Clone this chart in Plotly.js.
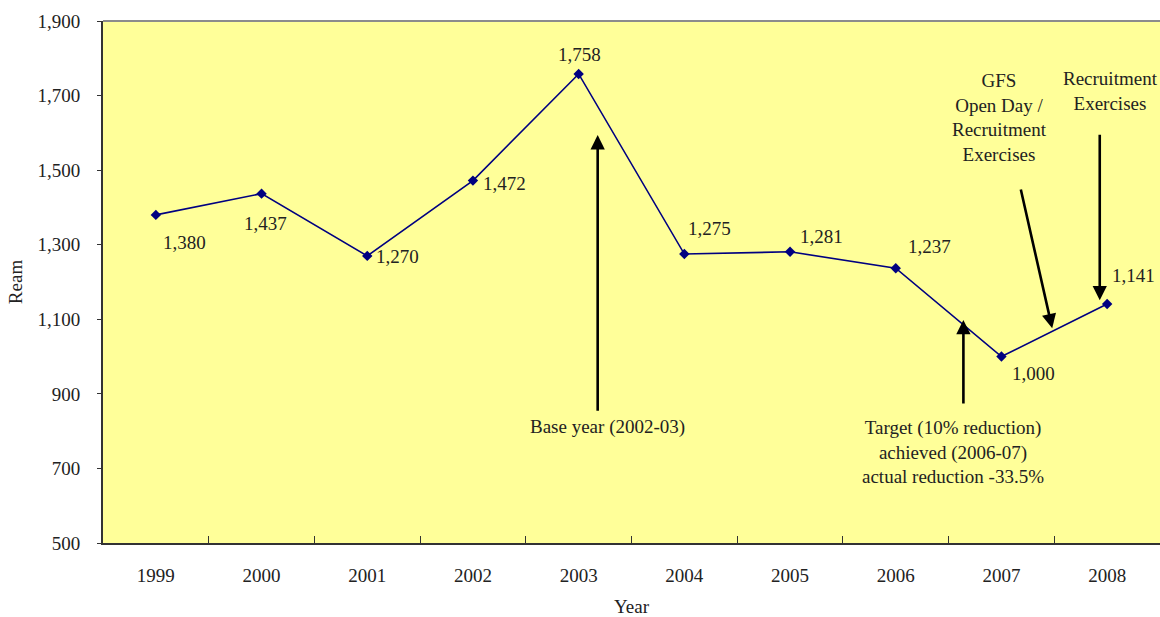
<!DOCTYPE html>
<html>
<head>
<meta charset="utf-8">
<script src="https://cdn.plot.ly/plotly-3.0.1.min.js"></script>
<style>
  html, body { margin: 0; padding: 0; background: #ffffff; }
  #chart { width: 1160px; height: 617px; }
</style>
</head>
<body>
<div id="chart"></div>
<script>
// Paper consumption by year (reams)
const years = ['1999', '2000', '2001', '2002', '2003', '2004', '2005', '2006', '2007', '2008'];
const reams = [1380, 1437, 1270, 1472, 1758, 1275, 1281, 1237, 1000, 1141];

// Pixel offsets of each value label from its marker
const labelDx = [29, 4, 30, 32, 1, 25, 31, 34, 32, 26];
const labelDy = [-28, -30, -1, -3, 19, 26, 15, 22, -17, 29];

// Call-out notes: text, text anchor, and arrow (tail -> head) in axis units
const noteText = [
  'Base year (2002-03)',
  'Target (10% reduction)<br>achieved (2006-07)<br>actual reduction -33.5%',
  'GFS<br>Open Day /<br>Recruitment<br>Exercises',
  'Recruitment<br>Exercises'
];
const noteX = [4.27, 7.54, 7.985, 9.03];
const noteY = [812, 744, 1642, 1712];
const arrowTailX = [4.18, 7.64, 8.18, 8.93];
const arrowTailY = [851, 870, 1452, 1599];
const arrowHeadX = [4.18, 7.64, 8.48, 8.93];
const arrowHeadY = [1594, 1098, 1076, 1151];

const FONT = 'Liberation Serif, Times New Roman, serif';
const TXT = '#222222';
const FS = 19;

const trace = {
  x: years,
  y: reams,
  type: 'scatter',
  mode: 'lines+markers',
  line: { color: '#000080', width: 1.6 },
  marker: { symbol: 'diamond', size: 8, color: '#000080' },
  hoverinfo: 'x+y'
};

const annotations = [];

// value labels
reams.forEach((v, i) => {
  annotations.push({
    x: i, y: v, xref: 'x', yref: 'y',
    text: v.toLocaleString('en-US'),
    showarrow: false,
    xshift: labelDx[i], yshift: labelDy[i],
    xanchor: 'center', yanchor: 'middle',
    font: { family: FONT, size: FS, color: TXT }
  });
});

// arrows
arrowHeadX.forEach((hx, i) => {
  annotations.push({
    x: hx, y: arrowHeadY[i], xref: 'x', yref: 'y',
    ax: arrowTailX[i], ay: arrowTailY[i], axref: 'x', ayref: 'y',
    text: '',
    showarrow: true,
    arrowhead: 2, arrowsize: 1.1, arrowwidth: 2.6,
    arrowcolor: '#000000', standoff: 0, startstandoff: 0
  });
});

// note texts
noteText.forEach((t, i) => {
  annotations.push({
    x: noteX[i], y: noteY[i], xref: 'x', yref: 'y',
    text: t, showarrow: false,
    xanchor: 'center', yanchor: 'middle', align: 'center',
    font: { family: FONT, size: FS, color: TXT }
  });
});

const layout = {
  width: 1160,
  height: 617,
  margin: { l: 103, r: 0, t: 21, b: 74 },
  paper_bgcolor: '#ffffff',
  plot_bgcolor: '#FFFF99',
  showlegend: false,
  font: { family: FONT, size: FS, color: TXT },
  xaxis: {
    type: 'category',
    range: [-0.5, 9.5],
    showgrid: false,
    zeroline: false,
    showline: true,
    linecolor: '#333333',
    linewidth: 2,
    ticks: 'inside',
    tickson: 'boundaries',
    ticklen: 7,
    tickwidth: 1,
    tickcolor: '#333333',
    ticklabelstandoff: 14,
    tickfont: { family: FONT, size: FS, color: TXT },
    title: { text: 'Year', font: { family: FONT, size: FS, color: TXT }, standoff: 17 }
  },
  yaxis: {
    range: [500, 1900],
    dtick: 200,
    tick0: 500,
    tickformat: ',d',
    showgrid: false,
    zeroline: false,
    showline: true,
    linecolor: '#333333',
    linewidth: 2,
    ticks: 'outside',
    ticklen: 4,
    tickwidth: 1,
    tickcolor: '#333333',
    ticklabelstandoff: 13,
    tickfont: { family: FONT, size: FS, color: TXT },
    title: { text: 'Ream', font: { family: FONT, size: FS, color: TXT }, standoff: 10 }
  },
  shapes: [{
    type: 'line', xref: 'paper', yref: 'paper',
    x0: 0, x1: 1, y0: 1, y1: 1,
    line: { color: '#8c8c8c', width: 2 }
  }],
  annotations: annotations
};

Plotly.newPlot('chart', [trace], layout, { displayModeBar: false, staticPlot: true });
</script>
</body>
</html>
